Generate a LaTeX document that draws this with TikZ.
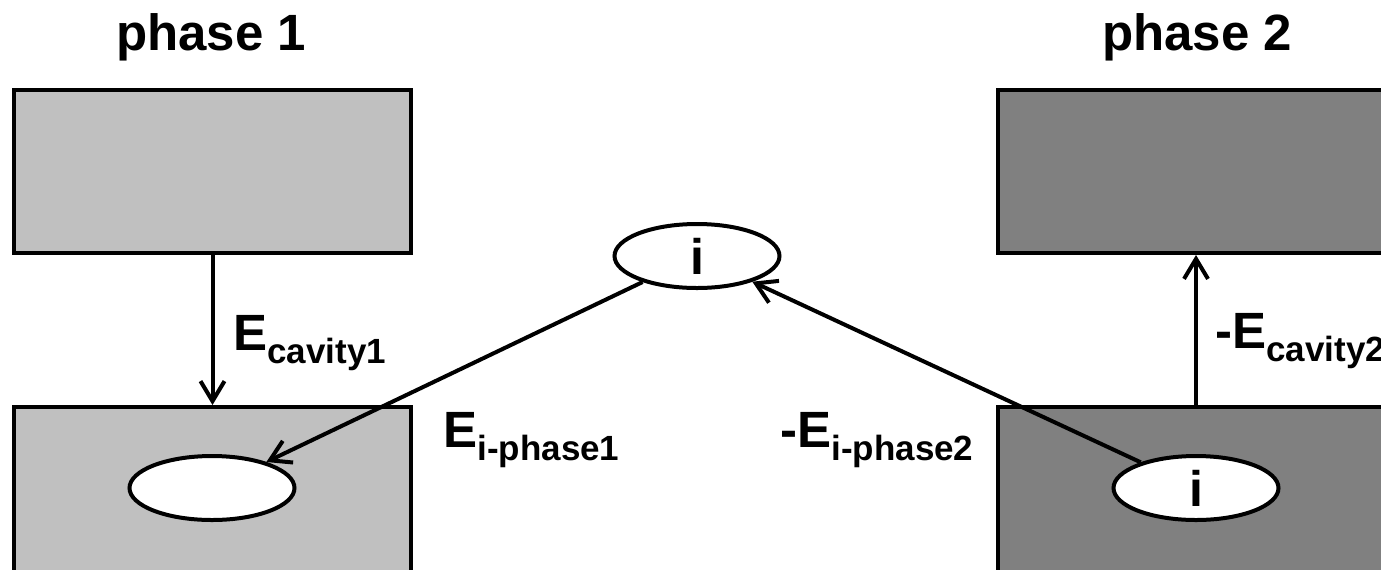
\documentclass[tikz,border=0pt]{standalone}
\usepackage{fontspec}
\setmainfont{Liberation Sans}
\usetikzlibrary{arrows.meta,shapes.geometric}
\definecolor{lightg}{RGB}{192,192,192}
\definecolor{darkg}{RGB}{128,128,128}
\newcommand{\Esub}[2]{#1\raisebox{-6.5pt}{\fontsize{17.5}{19}\selectfont #2}}
\begin{document}
\begin{tikzpicture}[x=0.5pt,y=-0.5pt,
  box/.style={draw=black,line width=2pt,minimum width=198.5pt,minimum height=81.5pt,inner sep=0pt},
  ell/.style={ellipse,draw=black,fill=white,line width=2pt,minimum width=82.5pt,minimum height=32pt,inner sep=0pt,font=\bfseries\fontsize{25}{30}\selectfont},
  lab/.style={font=\bfseries\fontsize{25.5}{30}\selectfont,inner sep=0pt,anchor=base west},
  arr/.style={line width=2pt,-{Straight Barb[length=10pt,width=12pt]}}]
\useasboundingbox (0,0) rectangle (1381,569);
\node[box,fill=lightg] (tl) at (212.5,171.5) {};
\node[box,fill=lightg,minimum height=96.5pt] (bl) at (212.5,503.5) {};
\node[box,fill=darkg] (tr) at (1196,171.5) {};
\node[box,fill=darkg,minimum height=96.5pt] (br) at (1196,503.5) {};
\node[ell] (el) at (212,488) {};
\node[ell] (ec) at (697,256) {i};
\node[ell] (er) at (1196,488) {i};
\draw[arr] (tl) -- (bl);
\draw[arr] (br) -- (tr);
\draw[arr] (ec) -- (el);
\draw[arr] (er) -- (ec);
\node[lab,anchor=base] (p1) at (211,50) {phase 1};
\node[lab,anchor=base] (p2) at (1197,50) {phase 2};
\node[lab] (lc1) at (233,350) {\Esub{E}{cavity1}};
\node[lab] (lc2) at (1215,348) {\Esub{-E}{cavity2}};
\node[lab] (li1) at (443,447) {\Esub{E}{i-phase1}};
\node[lab] (li2) at (780,447) {\Esub{-E}{i-phase2}};
\end{tikzpicture}
\end{document}
